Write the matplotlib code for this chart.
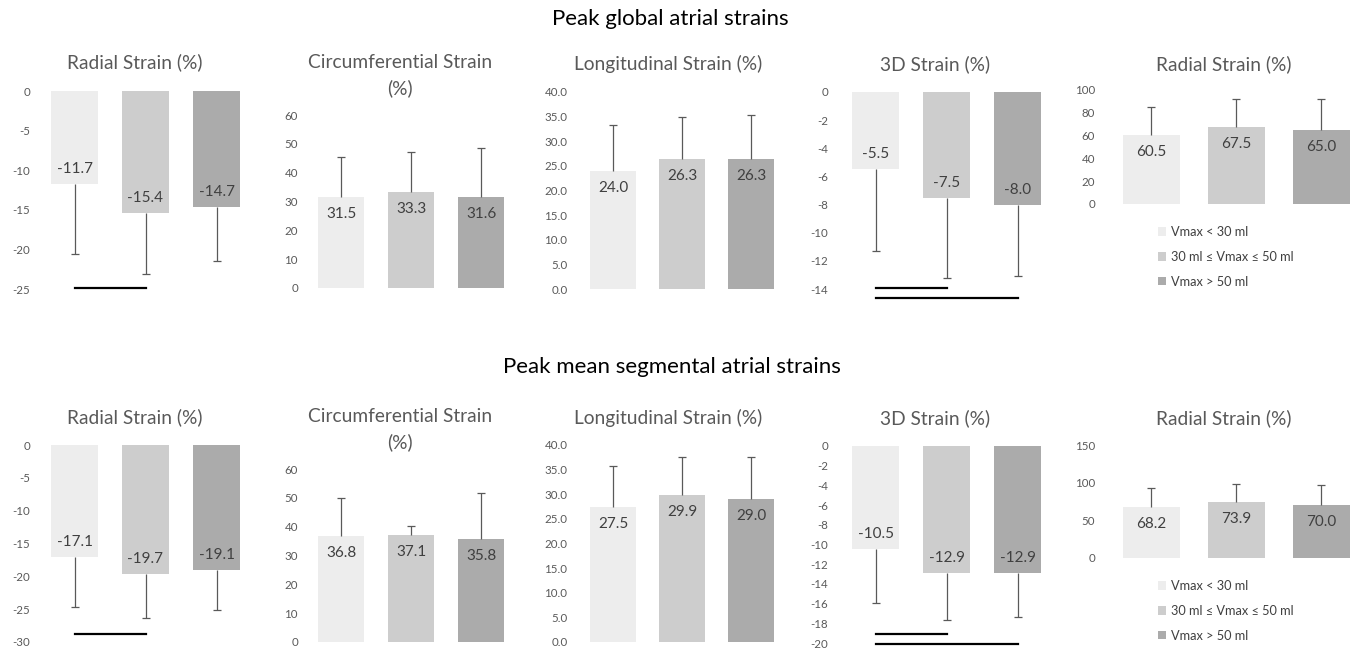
import numpy as np
import matplotlib
matplotlib.use("Agg")
import matplotlib.pyplot as plt
from matplotlib.patches import Patch

plt.rcParams['font.family'] = ['Lato', 'DejaVu Sans']
plt.rcParams['axes.unicode_minus'] = False

W, H = 1357, 652

# ======================== Data ==============================
groups = ['Vmax < 30 ml', '30 ml ≤ Vmax ≤ 50 ml', 'Vmax > 50 ml']
bar_colors = ['#EDEDED', '#CDCDCD', '#ABABAB']

# peak global atrial strains
glob_radial = [-11.7, -15.4, -14.7]
glob_radial_sd = [8.9, 7.7, 6.8]
glob_circ = [31.5, 33.3, 31.6]
glob_circ_sd = [14.1, 14.0, 16.9]
glob_long = [24.0, 26.3, 26.3]
glob_long_sd = [9.2, 8.7, 9.1]
glob_3d = [-5.5, -7.5, -8.0]
glob_3d_sd = [5.8, 5.7, 5.1]
glob_radial2 = [60.5, 67.5, 65.0]
glob_radial2_sd = [24.9, 24.6, 27.1]

# peak mean segmental atrial strains
seg_radial = [-17.1, -19.7, -19.1]
seg_radial_sd = [7.5, 6.7, 6.0]
seg_circ = [36.8, 37.1, 35.8]
seg_circ_sd = [13.2, 3.1, 15.8]
seg_long = [27.5, 29.9, 29.0]
seg_long_sd = [8.2, 7.7, 8.6]
seg_3d = [-10.5, -12.9, -12.9]
seg_3d_sd = [5.4, 4.8, 4.5]
seg_radial2 = [68.2, 73.9, 70.0]
seg_radial2_sd = [24.3, 24.4, 27.4]

# significance bars: (from group, to group, y value)
glob_radial_sig = [(0, 1, -24.9)]
glob_3d_sig = [(0, 1, -13.95), (0, 2, -14.66)]
seg_radial_sig = [(0, 1, -28.8)]
seg_3d_sig = [(0, 1, -19.13), (0, 2, -20.13)]

fig = plt.figure(figsize=(W / 100, H / 100), dpi=100)


def add_panel(vals, sd, left, width, ytop, ybot, ylim, step, fmt, pad,
              xmax=2.5, sig=()):
    ax = fig.add_axes([left / W, 1 - ybot / H, width / W, (ybot - ytop) / H])
    x = np.arange(3)
    vals = np.array(vals)
    sd = np.array(sd)
    ends = np.where(vals < 0, vals - sd, vals + sd)
    ax.bar(x, vals, width=0.66, color=bar_colors, zorder=2)
    # one-sided error bars, away from zero
    ax.vlines(x, vals, ends, color='#595959', lw=0.9, zorder=3)
    ax.plot(x, ends, '_', color='#595959', ms=5.5, mew=0.9, zorder=3)
    for i, v in enumerate(vals):
        off = 15 if v < 0 else -17
        ax.annotate(f"{v:.1f}", (i, v), xytext=(0, off), textcoords='offset pixels',
                    ha='center', va='center', fontsize=11, color='#404040', zorder=4)
    for a, b, y in sig:
        ax.plot([a, b], [y, y], color='black', lw=1.6, clip_on=False, zorder=4)
    ax.set_xlim(-0.5, xmax)
    ax.set_ylim(*ylim)
    ax.set_yticks(np.arange(ylim[0], ylim[1] + step / 2, step))
    ax.yaxis.set_major_formatter(plt.FuncFormatter(lambda v, p: fmt.format(v)))
    ax.tick_params(axis='y', length=0, pad=pad * 0.72, labelsize=8.3, labelcolor='#595959')
    ax.set_xticks([])
    for s in ax.spines.values():
        s.set_visible(False)
    return ax


def title(x, y, txt, size=13.8, color='#595959'):
    fig.text(x / W, 1 - y / H, txt, ha='center', va='center', fontsize=size, color=color)


# ---------------- top row ----------------
title(670, 19, 'Peak global atrial strains', size=16, color='black')
add_panel(glob_radial, glob_radial_sd, 39, 213, 91, 289, (-25, 0), 5, '{:.0f}', 9, sig=glob_radial_sig)
add_panel(glob_circ, glob_circ_sd, 306, 210, 115, 288, (0, 60), 10, '{:.0f}', 8)
add_panel(glob_long, glob_long_sd, 578.5, 207, 92, 289, (0, 40), 5, '{:.1f}', 11)
add_panel(glob_3d, glob_3d_sd, 840, 213, 92, 289, (-14, 0), 2, '{:.0f}', 12, sig=glob_3d_sig)
add_panel(glob_radial2, glob_radial2_sd, 1109, 248, 90, 204, (0, 100), 20, '{:.0f}', 14, xmax=2.418)
title(135, 62, 'Radial Strain (%)')
title(400, 63, 'Circumferential Strain')
title(400, 88, '(%)')
title(668, 64, 'Longitudinal Strain (%)')
title(935, 64, '3D Strain (%)')
title(1224, 64, 'Radial Strain (%)')

# ---------------- bottom row ----------------
title(672, 367, 'Peak mean segmental atrial strains', size=16, color='black')
add_panel(seg_radial, seg_radial_sd, 39, 213, 445, 642, (-30, 0), 5, '{:.0f}', 9, sig=seg_radial_sig)
add_panel(seg_circ, seg_circ_sd, 306, 210, 469, 642, (0, 60), 10, '{:.0f}', 8)
add_panel(seg_long, seg_long_sd, 578.5, 207, 445, 642, (0, 40), 5, '{:.1f}', 11)
add_panel(seg_3d, seg_3d_sd, 840, 213, 446, 643, (-20, 0), 2, '{:.0f}', 12, sig=seg_3d_sig)
add_panel(seg_radial2, seg_radial2_sd, 1109, 248, 445, 558, (0, 150), 50, '{:.0f}', 14, xmax=2.418)
title(135, 417, 'Radial Strain (%)')
title(400, 417, 'Circumferential Strain')
title(400, 442, '(%)')
title(668, 418, 'Longitudinal Strain (%)')
title(935, 418, '3D Strain (%)')
title(1224, 418, 'Radial Strain (%)')

# legends
handles = [Patch(facecolor=c, edgecolor='none') for c in bar_colors]
for ytop in (226, 580):
    fig.legend(handles, groups, loc='upper left', bbox_to_anchor=(1158 / W, 1 - ytop / H),
               bbox_transform=fig.transFigure, frameon=False, fontsize=9.2,
               handlelength=0.65, handleheight=0.65, handletextpad=0.35,
               labelspacing=1.0, borderpad=0, borderaxespad=0, labelcolor='#404040')

fig.savefig('out.png', dpi=100)
